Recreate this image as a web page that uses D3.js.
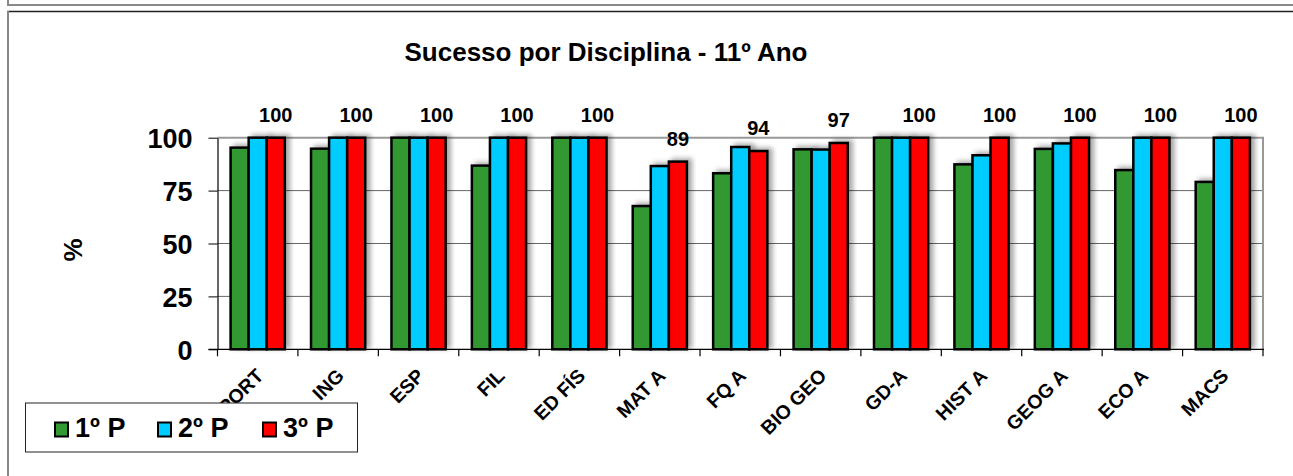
<!DOCTYPE html>
<html>
<head>
<meta charset="utf-8">
<script src="https://cdn.jsdelivr.net/npm/d3@7"></script>
<style>
  body { margin: 0; background: #fff; }
  svg { display: block; }
  text { font-family: "Liberation Sans", Arial, sans-serif; font-weight: bold; fill: #000; }
</style>
</head>
<body>
<div id="chart"></div>
<script>
// chart data
var categories = ["PORT", "ING", "ESP", "FIL", "ED FÍS", "MAT A", "FQ A", "BIO GEO", "GD-A", "HIST A", "GEOG A", "ECO A", "MACS"];
var series = ["1º P", "2º P", "3º P"];
var p1 = [95.3, 94.8, 100, 86.8, 100, 67.7, 83.2, 94.5, 100, 87.4, 94.7, 84.7, 79.1];
var p2 = [100, 100, 100, 100, 100, 86.6, 95.6, 94.4, 100, 91.7, 97.3, 100, 100];
var p3 = [100, 100, 100, 100, 100, 88.7, 93.7, 97.5, 100, 100, 100, 100, 100];
var p3Labels = ["100", "100", "100", "100", "100", "89", "94", "97", "100", "100", "100", "100", "100"];
var yTicks = [0, 25, 50, 75, 100];
var colors = ["#339933", "#00ccff", "#ff0000"];

var W = 1293, H = 476;
var pLeft = 217.5, pRight = 1263, pTop = 137.7, pBottom = 349.3;

var svg = d3.select("#chart").append("svg")
	.attr("width", W)
	.attr("height", H);

// drop shadow for bars
var defs = svg.append("defs");
var f = defs.append("filter").attr("id", "shadow")
	.attr("x", "-30%").attr("y", "-10%").attr("width", "180%").attr("height", "130%");
f.append("feDropShadow")
	.attr("dx", 4).attr("dy", -2).attr("stdDeviation", 2.5)
	.attr("flood-color", "#000").attr("flood-opacity", 0.35);

// frame lines
svg.append("line").attr("x1", 7).attr("x2", W).attr("y1", 5).attr("y2", 5)
	.attr("stroke", "#888").attr("stroke-width", 2);
svg.append("line").attr("x1", 8).attr("x2", 8).attr("y1", 0).attr("y2", 5)
	.attr("stroke", "#888").attr("stroke-width", 2);
svg.append("line").attr("x1", 7).attr("x2", W).attr("y1", 11.5).attr("y2", 11.5)
	.attr("stroke", "#222").attr("stroke-width", 1.5);
svg.append("line").attr("x1", 8).attr("x2", 8).attr("y1", 11).attr("y2", H)
	.attr("stroke", "#888").attr("stroke-width", 2);

var x0 = d3.scaleBand().domain(categories).range([pLeft, pRight]).padding(0);
var bw = x0.bandwidth();
var x1 = d3.scaleBand().domain(series).range([bw * 0.163, bw * 0.837]).padding(0);
var y = d3.scaleLinear().domain([0, 100]).range([pBottom, pTop]);

// gridlines
svg.append("g").selectAll("line")
	.data(yTicks.filter(function(d) { return d > 0 && d < 100; }))
	.enter().append("line")
	.attr("x1", pLeft).attr("x2", pRight)
	.attr("y1", function(d) { return y(d); })
	.attr("y2", function(d) { return y(d); })
	.attr("stroke", "#666").attr("stroke-width", 1);

// plot area border (top / right)
svg.append("line").attr("x1", pLeft).attr("x2", pRight + 1).attr("y1", pTop).attr("y2", pTop)
	.attr("stroke", "#999").attr("stroke-width", 2);
svg.append("line").attr("x1", pRight).attr("x2", pRight).attr("y1", pTop).attr("y2", pBottom)
	.attr("stroke", "#999").attr("stroke-width", 2);

// bars
var rows = categories.map(function(c, i) {
	return { cat: c, vals: [p1[i], p2[i], p3[i]] };
});
var groups = svg.append("g").selectAll("g")
	.data(rows)
	.enter().append("g")
	.attr("transform", function(d) { return "translate(" + x0(d.cat) + ",0)"; });

groups.selectAll("rect")
	.data(function(d) { return d.vals.map(function(v, j) { return { s: series[j], v: v, j: j }; }); })
	.enter().append("rect")
	.attr("x", function(d) { return x1(d.s); })
	.attr("width", x1.bandwidth())
	.attr("y", function(d) { return y(d.v); })
	.attr("height", function(d) { return y(0) - y(d.v); })
	.attr("fill", function(d) { return colors[d.j]; })
	.attr("stroke", "#000")
	.attr("stroke-width", 2.5)
	.attr("filter", "url(#shadow)");

// data labels on 3º P
svg.append("g").selectAll("text")
	.data(categories)
	.enter().append("text")
	.attr("x", function(c) { return x0(c) + x1("3º P") + x1.bandwidth() / 2; })
	.attr("y", function(c, i) { return y(p3[i]) - 16; })
	.attr("text-anchor", "middle")
	.attr("font-size", "20px")
	.text(function(c, i) { return p3Labels[i]; });

// y axis
var yAxis = d3.axisLeft(y).tickValues(yTicks).tickSize(9).tickSizeOuter(0).tickPadding(16);
var ya = svg.append("g").attr("transform", "translate(" + pLeft + ",0)").call(yAxis);
ya.select(".domain").attr("stroke", "#000").attr("stroke-width", 1.2);
ya.selectAll(".tick line").attr("stroke", "#000");
ya.selectAll(".tick text")
	.attr("font-size", "27px")
	.attr("font-family", "'Liberation Sans', Arial, sans-serif")
	.attr("font-weight", "bold")
	.attr("fill", "#000")
	.attr("dy", "0.36em");

// x axis line and boundary ticks
svg.append("line").attr("x1", pLeft - 9).attr("x2", pRight + 1).attr("y1", pBottom).attr("y2", pBottom)
	.attr("stroke", "#000").attr("stroke-width", 1.2);
var bounds = categories.map(function(c) { return x0(c); }).concat([pRight]);
svg.append("g").selectAll("line")
	.data(bounds)
	.enter().append("line")
	.attr("x1", function(d) { return d; }).attr("x2", function(d) { return d; })
	.attr("y1", pBottom).attr("y2", pBottom + 7)
	.attr("stroke", "#000").attr("stroke-width", 1.2);

// x labels, rotated
svg.append("g").selectAll("text")
	.data(categories)
	.enter().append("text")
	.attr("transform", function(c) {
		return "translate(" + (x0(c) + bw / 2 + 7) + "," + 377 + ") rotate(-45)";
	})
	.attr("text-anchor", "end")
	.attr("font-size", "19.5px")
	.text(function(c) { return c; });

// y title
svg.append("text")
	.attr("transform", "translate(82,250) rotate(-90)")
	.attr("text-anchor", "middle")
	.attr("font-size", "26px")
	.text("%");

// title
svg.append("text")
	.attr("x", 606).attr("y", 61)
	.attr("text-anchor", "middle")
	.attr("font-size", "26px")
	.text("Sucesso por Disciplina - 11º Ano");

// legend
var lg = svg.append("g");
lg.append("rect").attr("x", 25.5).attr("y", 403).attr("width", 332).attr("height", 49)
	.attr("fill", "#fff").attr("stroke", "#222").attr("stroke-width", 1);
var legX = [54, 157, 262];
series.forEach(function(s, i) {
	lg.append("rect").attr("x", legX[i] + 1).attr("y", 422.5).attr("width", 13).attr("height", 14)
		.attr("fill", colors[i]).attr("stroke", "#000").attr("stroke-width", 2);
	lg.append("text").attr("x", legX[i] + 21).attr("y", 437)
		.attr("font-size", "27px")
		.text(s);
});
</script>
</body>
</html>
